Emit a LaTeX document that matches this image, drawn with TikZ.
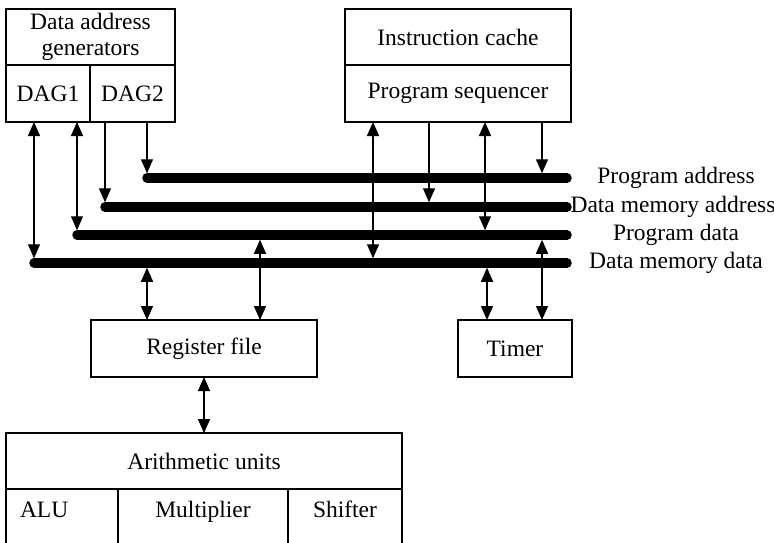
\documentclass[tikz,border=0pt]{standalone}
\usepackage{fontspec}
\setmainfont{Liberation Serif}
\usepackage{tikz}
\usetikzlibrary{arrows.meta, positioning, calc}

\begin{document}
\begin{tikzpicture}[x=1pt, y=-1pt,
        box/.style={draw, rectangle, line width=1.4pt, inner sep=0pt, outer sep=0pt, align=center, font=\fontsize{23.5}{26}\selectfont},
        cell/.style={box, minimum height=57pt, text height=16pt, text depth=17pt},
        arrow/.style={-{Triangle[length=14pt, width=12pt]}, line width=1.4pt},
        both/.style={{Triangle[length=14pt, width=12pt]}-{Triangle[length=14pt, width=12pt]}, line width=1.4pt},
        bus/.style={line width=9.5pt, line cap=round},
        lbl/.style={font=\fontsize{23.5}{26}\selectfont, anchor=center}
    ]
    \clip (0,0) rectangle (774,543);

    % --- DAGs ---
    \node[box, minimum width=169pt, minimum height=56pt, anchor=north west] (dag) at (6,9) {Data address\\generators};
    \node[box, minimum width=84pt, minimum height=57pt, anchor=north west] (dag1) at (dag.south west) {DAG1};
    \node[box, minimum width=85pt, minimum height=57pt, anchor=north east] (dag2) at (dag.south east) {DAG2};

    % --- Sequencer ---
    \node[box, minimum width=226pt, minimum height=56pt, anchor=north west] (icache) at (345,9) {Instruction cache};
    \node[box, minimum width=226pt, minimum height=57pt, anchor=north] (pseq) at (icache.south) {Program sequencer};

    % --- Buses ---
    \coordinate (pa-w) at (147,178);  \coordinate (pa-e) at (567,178);
    \coordinate (dma-w) at (105,207); \coordinate (dma-e) at (567,207);
    \coordinate (pd-w) at (77,235);   \coordinate (pd-e) at (567,235);
    \coordinate (dmd-w) at (34,263);  \coordinate (dmd-e) at (567,263);
    \draw[bus] (pa-w) -- (pa-e);
    \draw[bus] (dma-w) -- (dma-e);
    \draw[bus] (pd-w) -- (pd-e);
    \draw[bus] (dmd-w) -- (dmd-e);
    \node[lbl] (lpa) at ([xshift=109pt]pa-e) {Program address};
    \node[lbl] (ldma) at ([xshift=106pt]dma-e) {Data memory address};
    \node[lbl] (lpd) at ([xshift=109pt]pd-e) {Program data};
    \node[lbl] (ldmd) at ([xshift=109pt]dmd-e) {Data memory data};

    % --- Register file, timer, arithmetic ---
    \node[box, minimum width=226pt, minimum height=57pt, anchor=north west] (regfile) at (91,320) {Register file};
    \node[box, minimum width=114pt, minimum height=57pt, anchor=north west] (timer) at (458,320) {Timer};
    \node[box, minimum width=396pt, minimum height=56pt, anchor=north west] (arith) at (6,433) {Arithmetic units};
    \node[cell, minimum width=112pt, text width=84pt, align=left, anchor=north west] (alu) at (arith.south west) {ALU};
    \node[cell, minimum width=170pt, anchor=north west] (mult) at (alu.north east) {Multiplier};
    \node[cell, minimum width=114pt, anchor=north west] (shifter) at (mult.north east) {Shifter};

    % DAG links
    \draw[both, shorten >=4.75pt] (dag1.south -| dmd-w) -- (dmd-w);
    \draw[both, shorten >=4.75pt] (dag1.south -| pd-w) -- (pd-w);
    \draw[arrow, shorten >=4.75pt] (dag2.south -| dma-w) -- (dma-w);
    \draw[arrow, shorten >=4.75pt] (dag2.south -| pa-w) -- (pa-w);

    % sequencer links
    \draw[both, shorten >=4.75pt] ([xshift=28pt]pseq.south west) -- ([xshift=28pt]pseq.south west |- dmd-e);
    \draw[arrow, shorten >=4.75pt] ([xshift=84pt]pseq.south west) -- ([xshift=84pt]pseq.south west |- dma-e);
    \draw[both, shorten >=4.75pt] ([xshift=140pt]pseq.south west) -- ([xshift=140pt]pseq.south west |- pd-e);
    \draw[arrow, shorten >=4.75pt] ([xshift=197pt]pseq.south west) -- ([xshift=197pt]pseq.south west |- pa-e);

    % register file and timer links
    \draw[both, shorten <=4.75pt] ([xshift=56pt]regfile.north west |- dmd-e) -- ([xshift=56pt]regfile.north west);
    \draw[both, shorten <=4.75pt] ([xshift=169pt]regfile.north west |- pd-e) -- ([xshift=169pt]regfile.north west);
    \draw[both, shorten <=4.75pt] ([xshift=29pt]timer.north west |- dmd-e) -- ([xshift=29pt]timer.north west);
    \draw[both, shorten <=4.75pt] ([xshift=84pt]timer.north west |- pd-e) -- ([xshift=84pt]timer.north west);
    \draw[both] (regfile.south) -- (arith.north);

\end{tikzpicture}
\end{document}
